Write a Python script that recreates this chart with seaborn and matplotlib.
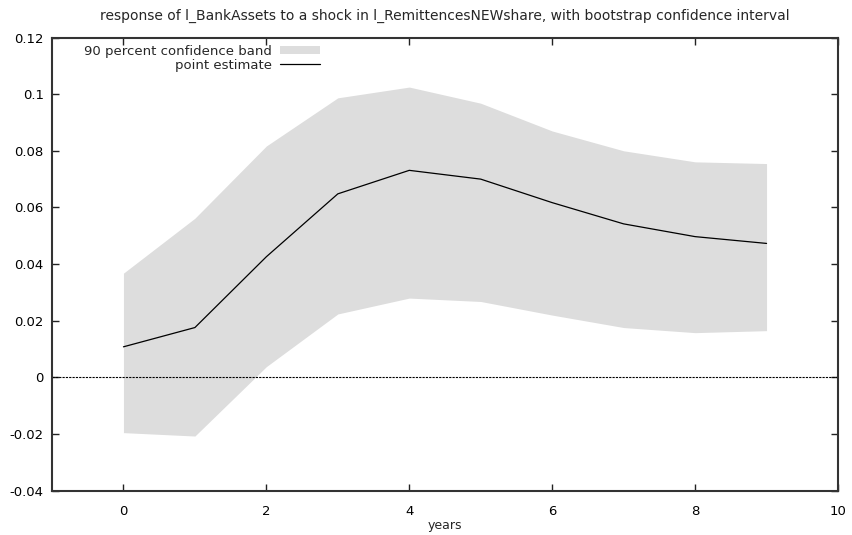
import matplotlib
matplotlib.use("Agg")
import matplotlib.pyplot as plt
import seaborn as sns
import pandas as pd
from matplotlib.patches import Patch
from matplotlib.lines import Line2D

years = [0, 1, 2, 3, 4, 5, 6, 7, 8, 9]
point_estimate = [0.0108, 0.0176, 0.0426, 0.0648, 0.0731, 0.0700, 0.0617, 0.0542, 0.0497, 0.0473]
upper_band = [0.0368, 0.0562, 0.0817, 0.0987, 0.1025, 0.0968, 0.0870, 0.0800, 0.0761, 0.0755]
lower_band = [-0.0195, -0.0207, 0.0038, 0.0224, 0.0280, 0.0268, 0.0220, 0.0176, 0.0158, 0.0165]
yticks = [-0.04, -0.02, 0, 0.02, 0.04, 0.06, 0.08, 0.1, 0.12]
ytick_labels = ["-0.04", "-0.02", "0", "0.02", "0.04", "0.06", "0.08", "0.1", "0.12"]
xticks = [0, 2, 4, 6, 8, 10]

df = pd.DataFrame({"years": years, "est": point_estimate, "lo": lower_band, "hi": upper_band})

sns.set_theme(style="ticks")
plt.rcParams["font.family"] = ["DejaVu Sans"]

fig = plt.figure(figsize=(8.52, 5.35), dpi=100)
ax = fig.add_axes([52/852, 1-490.7/535, (838-52)/852, (490.7-37.5)/535])

ax.fill_between(df["years"], df["lo"], df["hi"], color="#dddddd", linewidth=0)
ax.axhline(0, color="black", linewidth=0.8, linestyle=(0, (2, 1)))
sns.lineplot(data=df, x="years", y="est", ax=ax, color="black", linewidth=0.9)

ax.set_xlim(-1, 10)
ax.set_ylim(-0.04, 0.12)
ax.set_xticks(xticks)
ax.set_xticklabels([str(t) for t in xticks])
ax.set_yticks(yticks)
ax.set_yticklabels(ytick_labels)
ax.tick_params(direction="in", length=5, width=1, colors="#222222", labelcolor="black",
               labelsize=9.5, top=True, right=True, pad=6)
ax.tick_params(axis="x", pad=10)
for s in ax.spines.values():
    s.set_color("#333333")
    s.set_linewidth(1.5)

ax.set_xlabel("years", fontsize=9, labelpad=1)
ax.set_ylabel("")
ax.set_title("response of l_BankAssets to a shock in l_RemittencesNEWshare, with bootstrap confidence interval",
             fontsize=10, pad=13)

handles = [Patch(facecolor="#dddddd", edgecolor="none"), Line2D([0], [0], color="black", linewidth=0.9)]
labels = ["90 percent confidence band", "point estimate"]
leg = ax.legend(handles, labels, loc="upper left", bbox_to_anchor=(0.029, 1.004), frameon=False,
                markerfirst=False, fontsize=9.5, handlelength=3.0, handleheight=0.6,
                labelspacing=0.05, handletextpad=0.65, borderaxespad=0.3)
for t in leg.get_texts():
    t.set_ha("right")
leg._legend_box.align = "right"

fig.savefig("out.png", dpi=100)
